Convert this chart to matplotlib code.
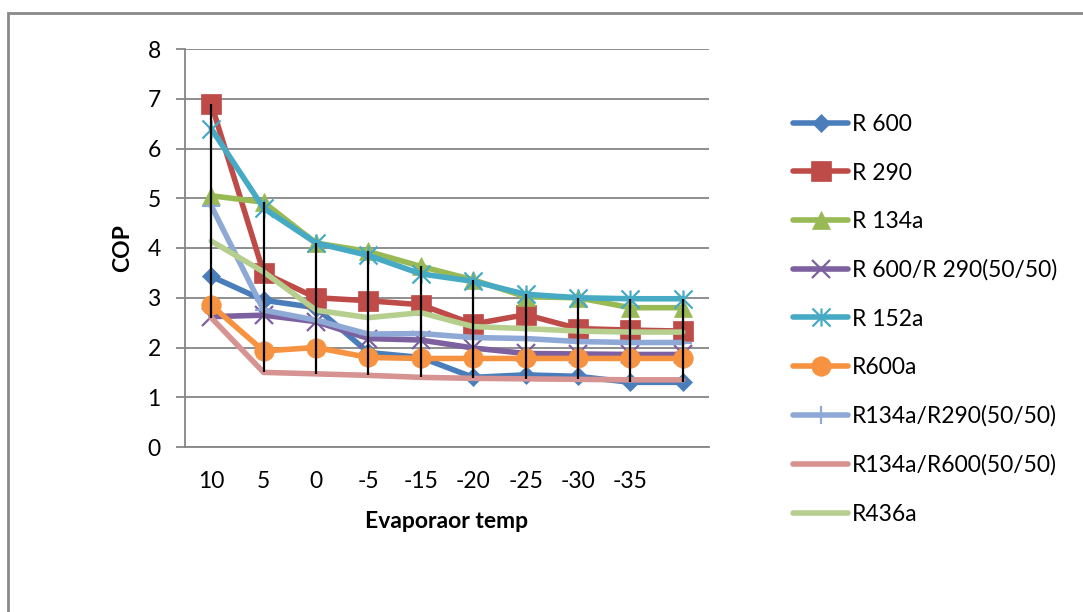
import matplotlib
matplotlib.use("Agg")
import matplotlib.pyplot as plt
from matplotlib.path import Path
from matplotlib.patches import Rectangle
import numpy as np

plt.rcParams['font.family'] = ['Lato', 'DejaVu Sans']

categories = ["10", "5", "0", "-5", "-15", "-20", "-25", "-30", "-35", ""]

r600 = [3.43, 2.95, 2.8, 1.9, 1.8, 1.4, 1.45, 1.42, 1.3, 1.3]
r290 = [6.9, 3.5, 3.0, 2.94, 2.86, 2.47, 2.66, 2.38, 2.35, 2.33]
r134a = [5.05, 4.92, 4.1, 3.93, 3.63, 3.36, 3.02, 3.0, 2.8, 2.8]
r600_r290 = [2.62, 2.65, 2.52, 2.18, 2.15, 1.99, 1.88, 1.87, 1.86, 1.86]
r152a = [6.4, 4.8, 4.1, 3.85, 3.48, 3.33, 3.07, 3.0, 2.98, 2.98]
r600a = [2.85, 1.93, 2.0, 1.8, 1.78, 1.78, 1.78, 1.78, 1.78, 1.78]
r134a_r290 = [4.85, 2.75, 2.55, 2.27, 2.28, 2.2, 2.18, 2.12, 2.1, 2.1]
r134a_r600 = [2.6, 1.5, 1.47, 1.44, 1.4, 1.38, 1.37, 1.36, 1.35, 1.35]
r436a = [4.14, 3.52, 2.75, 2.6, 2.7, 2.42, 2.38, 2.33, 2.31, 2.31]

labels = ["R 600", "R 290", "R 134a", "R 600/R 290(50/50)", "R 152a", "R600a",
          "R134a/R290(50/50)", "R134a/R600(50/50)", "R436a"]
series = [r600, r290, r134a, r600_r290, r152a, r600a, r134a_r290, r134a_r600, r436a]
colors = ["#4A7EBB", "#BE4B48", "#98B954", "#7D60A0", "#46AAC5", "#F69240",
          "#8EA9D6", "#D69391", "#B7CF8E"]

asterisk = Path([(-0.5, -0.5), (0.5, 0.5), (-0.5, 0.5), (0.5, -0.5), (0, -0.5), (0, 0.5)],
                [Path.MOVETO, Path.LINETO, Path.MOVETO, Path.LINETO, Path.MOVETO, Path.LINETO])
markers = [("D", 9.5, True), ("s", 14, True), ("^", 13, True), ("x", 13, False),
           (asterisk, 13, False), ("o", 14, True), ("+", 13, False), (None, 0, True), (None, 0, True)]

FS = 16.5
W, H = 1083, 612
fig = plt.figure(figsize=(W / 100, H / 100), dpi=100)
ax = fig.add_axes([185 / W, 1 - 447 / H, (709 - 185) / W, (447 - 49) / H])

x = np.arange(len(categories))
for vals, lab, col, (m, ms, filled) in zip(series, labels, colors, markers):
    kw = dict(color=col, lw=4.0, label=lab, solid_joinstyle='round', solid_capstyle='round')
    if m is not None:
        kw.update(marker=m, markersize=ms, markeredgecolor=col)
        if filled:
            kw.update(markerfacecolor=col, markeredgewidth=0.5)
        else:
            kw.update(markerfacecolor='none', markeredgewidth=1.6)
    ax.plot(x, vals, **kw)

data = np.array(series)
ax.vlines(x, data.min(axis=0), data.max(axis=0), colors='black', lw=1.6, zorder=5)

ax.set_xlim(-0.5, len(categories) - 0.5)
ax.set_ylim(0, 8)
ax.set_yticks(np.arange(0, 9, 1))
ax.set_xticks(x)
ax.set_xticklabels(categories)
ax.grid(axis='y', color='#868686', lw=1.3)
ax.set_axisbelow(True)
for s in ['top', 'right']:
    ax.spines[s].set_visible(False)
ax.spines['left'].set_color('#868686')
ax.spines['left'].set_linewidth(1.3)
ax.spines['bottom'].set_color('#868686')
ax.spines['bottom'].set_linewidth(1.3)
ax.tick_params(axis='y', length=6.5, width=1.3, color='#868686', pad=11, labelsize=FS)
ax.tick_params(axis='x', length=0, pad=17, labelsize=FS)

ax.set_ylabel("COP", fontsize=FS, fontweight='bold', labelpad=10)
ax.set_xlabel("Evaporaor temp", fontsize=FS, fontweight='bold', labelpad=14)

leg = ax.legend(loc='upper left', bbox_to_anchor=(793 / W, 1 - 114 / H), bbox_transform=fig.transFigure,
                frameon=False, fontsize=FS, handlelength=2.4, handletextpad=0.17,
                labelspacing=1.2, borderpad=0, borderaxespad=0)

fig.patches.append(Rectangle((8 / W, -0.1), 1.2, 1.1 - 13 / H, transform=fig.transFigure,
                             fill=False, edgecolor='#8a8a8a', lw=2))

fig.savefig("out.png", dpi=100)
